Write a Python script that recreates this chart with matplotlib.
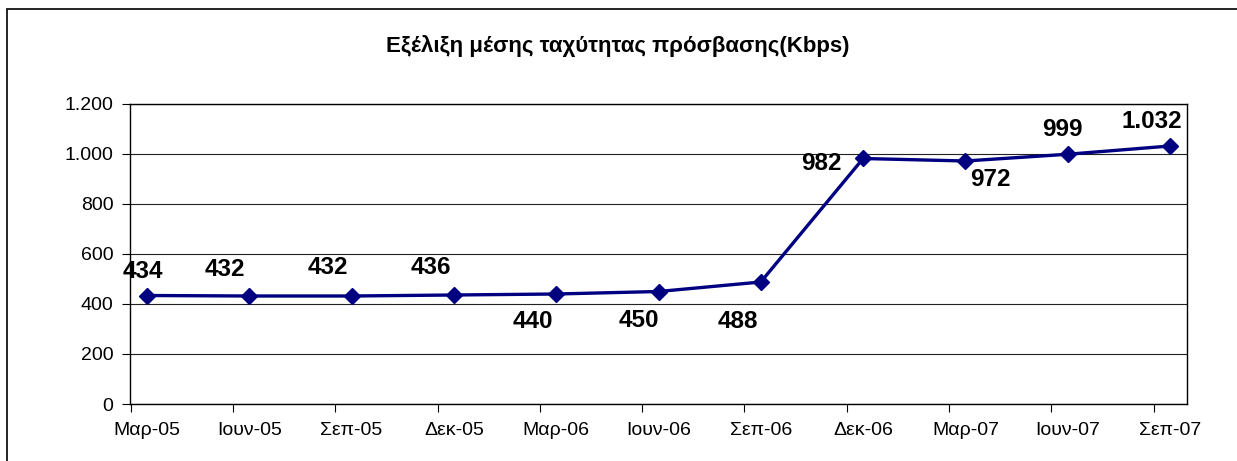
import matplotlib.pyplot as plt
import matplotlib.ticker as mticker
import numpy as np

plt.rcParams['font.family'] = ['Liberation Sans', 'DejaVu Sans']

months = ['Μαρ-05', 'Ιουν-05', 'Σεπ-05', 'Δεκ-05', 'Μαρ-06', 'Ιουν-06',
          'Σεπ-06', 'Δεκ-06', 'Μαρ-07', 'Ιουν-07', 'Σεπ-07']
speed = [434, 432, 432, 436, 440, 450, 488, 982, 972, 999, 1032]

# label offsets in pixels (dx, dy), Excel put them wherever it liked
label_offsets = [(-4, 24), (-24, 26), (-24, 28), (-23, 27), (-23, -28), (-20, -29),
                 (-23, -40), (-42, -5), (25, -19), (-5, 25), (-18, 24)]

W, H = 1237, 461
fig = plt.figure(figsize=(W / 100, H / 100), dpi=100)
ax = fig.add_axes([130 / W, (H - 404) / H, (1187 - 130) / W, 300 / H])

x = np.arange(len(months))
ax.plot(x, speed, color='#000080', lw=2.4, marker='D', markersize=8.5, zorder=3)

for xi, v, (dx, dy) in zip(x, speed, label_offsets):
    txt = f'{v:,}'.replace(',', '.')
    ax.annotate(txt, (xi, v), xytext=(dx, dy), textcoords='offset pixels',
                ha='center', va='center', fontsize=17.5, fontweight='bold')

ax.set_ylim(0, 1200)
ax.set_yticks(np.arange(0, 1201, 200))
ax.yaxis.set_major_formatter(mticker.FuncFormatter(lambda v, p: f'{int(v):,}'.replace(',', '.')))
ax.grid(axis='y', color='#222222', lw=0.8)
ax.set_axisbelow(True)

ax.set_xlim(-0.166, 10.166)
ax.set_xticks(x - 0.16)
ax.set_xticklabels([])
ax.set_xticks(x, minor=True)
ax.set_xticklabels(months, minor=True)
ax.tick_params(axis='x', which='minor', length=0, pad=13, labelsize=14)
ax.tick_params(axis='x', which='major', length=6, width=0.8)
ax.tick_params(axis='y', length=6, width=0.8, labelsize=14, pad=6)

for s in ax.spines.values():
    s.set_linewidth(1.0)
    s.set_color('black')

fig.text(618 / W, 1 - 46 / H, 'Εξέλιξη μέσης ταχύτητας πρόσβασης(Kbps)',
         ha='center', va='center', fontsize=16, fontweight='bold')

# chart frame, cut off at right and bottom like the source
frame = plt.Rectangle((7 / W, -0.1), 1.2, 1 - 9 / H + 0.1, transform=fig.transFigure,
                      fill=False, lw=1.2, edgecolor='black', clip_on=False)
fig.patches.append(frame)

fig.savefig('out.png', dpi=100)
